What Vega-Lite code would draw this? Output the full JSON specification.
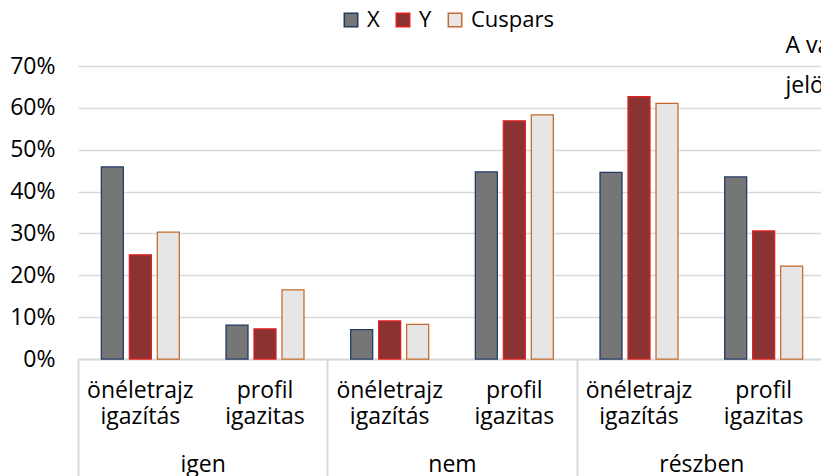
{
  "$schema": "https://vega.github.io/schema/vega-lite/v6.json",
  "width": 743,
  "height": 293,
  "autosize": {"type": "none"},
  "padding": {"left": 78, "top": 66, "right": 0, "bottom": 117},
  "config": {
    "font": "Open Sans",
    "view": {"stroke": null},
    "axis": {"labelColor": "#000000", "labelFontSize": 23, "labelFont": "Open Sans"}
  },
  "data": {
    "values": [
      {"csoport": "igen", "kategoria": "igen|önéletrajz igazítás", "sorozat": "X", "ertek": 0.459},
      {"csoport": "igen", "kategoria": "igen|önéletrajz igazítás", "sorozat": "Y", "ertek": 0.249},
      {"csoport": "igen", "kategoria": "igen|önéletrajz igazítás", "sorozat": "Cuspars", "ertek": 0.303},
      {"csoport": "igen", "kategoria": "igen|profil igazitas", "sorozat": "X", "ertek": 0.081},
      {"csoport": "igen", "kategoria": "igen|profil igazitas", "sorozat": "Y", "ertek": 0.072},
      {"csoport": "igen", "kategoria": "igen|profil igazitas", "sorozat": "Cuspars", "ertek": 0.165},
      {"csoport": "nem", "kategoria": "nem|önéletrajz igazítás", "sorozat": "X", "ertek": 0.070},
      {"csoport": "nem", "kategoria": "nem|önéletrajz igazítás", "sorozat": "Y", "ertek": 0.091},
      {"csoport": "nem", "kategoria": "nem|önéletrajz igazítás", "sorozat": "Cuspars", "ertek": 0.083},
      {"csoport": "nem", "kategoria": "nem|profil igazitas", "sorozat": "X", "ertek": 0.447},
      {"csoport": "nem", "kategoria": "nem|profil igazitas", "sorozat": "Y", "ertek": 0.569},
      {"csoport": "nem", "kategoria": "nem|profil igazitas", "sorozat": "Cuspars", "ertek": 0.583},
      {"csoport": "részben", "kategoria": "részben|önéletrajz igazítás", "sorozat": "X", "ertek": 0.446},
      {"csoport": "részben", "kategoria": "részben|önéletrajz igazítás", "sorozat": "Y", "ertek": 0.627},
      {"csoport": "részben", "kategoria": "részben|önéletrajz igazítás", "sorozat": "Cuspars", "ertek": 0.611},
      {"csoport": "részben", "kategoria": "részben|profil igazitas", "sorozat": "X", "ertek": 0.435},
      {"csoport": "részben", "kategoria": "részben|profil igazitas", "sorozat": "Y", "ertek": 0.306},
      {"csoport": "részben", "kategoria": "részben|profil igazitas", "sorozat": "Cuspars", "ertek": 0.222}
    ]
  },
  "layer": [
    {
      "layer": [
        {
          "mark": {"type": "bar", "strokeWidth": 1.25},
          "encoding": {
            "x": {
              "field": "kategoria",
              "type": "nominal",
              "scale": {
                "domain": ["igen|önéletrajz igazítás", "igen|profil igazitas", "nem|önéletrajz igazítás", "nem|profil igazitas", "részben|önéletrajz igazítás", "részben|profil igazitas"],
                "range": [0, 748],
                "paddingInner": 0,
                "paddingOuter": 0
              },
              "axis": {
                "title": null,
                "orient": "bottom",
                "domain": true,
                "domainColor": "#d9d9d9",
                "domainWidth": 2,
                "ticks": false,
                "grid": false,
                "labelAngle": 0,
                "labelExpr": "split(split(datum.value, '|')[1], ' ')",
                "labelPadding": 20,
                "labelLineHeight": 26,
                "labelFontSize": 23
              }
            },
            "xOffset": {
              "field": "sorozat",
              "type": "nominal",
              "scale": {"domain": ["X", "Y", "Cuspars"], "paddingInner": 0.214, "paddingOuter": 0.834}
            },
            "y": {
              "field": "ertek",
              "type": "quantitative",
              "scale": {"domain": [0, 0.7], "nice": false},
              "axis": {
                "title": null,
                "values": [0, 0.1, 0.2, 0.3, 0.4, 0.5, 0.6, 0.7],
                "format": ".0%",
                "domain": false,
                "ticks": false,
                "labelPadding": 23,
                "labelFontSize": 23,
                "gridColor": "#d9d9d9",
                "gridWidth": 1.3
              }
            },
            "fill": {
              "field": "sorozat",
              "type": "nominal",
              "scale": {"domain": ["X", "Y", "Cuspars"], "range": ["#767676", "#8b3333", "#e7e6e6"]},
              "legend": {
                "title": null,
                "orient": "none",
                "legendX": 262,
                "legendY": -57,
                "direction": "horizontal",
                "symbolType": "square",
                "symbolSize": 180,
                "symbolStrokeWidth": 1.5,
                "labelFontSize": 22,
                "labelColor": "#000000",
                "labelOffset": 5,
                "columnPadding": 12
              }
            },
            "stroke": {
              "field": "sorozat",
              "type": "nominal",
              "scale": {"domain": ["X", "Y", "Cuspars"], "range": ["#1f3864", "#e0201f", "#c5692a"]},
              "legend": {
                "title": null,
                "orient": "none",
                "legendX": 262,
                "legendY": -57,
                "direction": "horizontal",
                "symbolType": "square",
                "symbolSize": 180,
                "symbolStrokeWidth": 1.5,
                "labelFontSize": 22,
                "labelColor": "#000000",
                "labelOffset": 5,
                "columnPadding": 12
              }
            }
          }
        },
        {
          "data": {"values": [{"szoveg": "A válaszadók"}]},
          "mark": {"type": "text", "align": "left", "baseline": "middle", "fontSize": 23, "color": "#000000", "font": "Open Sans"},
          "encoding": {
            "x": {"datum": "részben|profil igazitas", "type": "nominal", "bandPosition": 0.675},
            "y": {"datum": 0.748, "type": "quantitative"},
            "text": {"field": "szoveg"}
          }
        },
        {
          "data": {"values": [{"szoveg": "jelölése"}]},
          "mark": {"type": "text", "align": "left", "baseline": "middle", "fontSize": 23, "color": "#000000", "font": "Open Sans"},
          "encoding": {
            "x": {"datum": "részben|profil igazitas", "type": "nominal", "bandPosition": 0.675},
            "y": {"datum": 0.652, "type": "quantitative"},
            "text": {"field": "szoveg"}
          }
        }
      ]
    },
    {
      "mark": {"type": "point", "opacity": 0},
      "encoding": {
        "x": {
          "field": "csoport",
          "type": "nominal",
          "scale": {"domain": ["igen", "nem", "részben"], "range": [0, 748], "paddingInner": 0, "paddingOuter": 0},
          "axis": {
            "title": null,
            "orient": "bottom",
            "domain": false,
            "grid": false,
            "ticks": true,
            "tickBand": "extent",
            "tickSize": 130,
            "tickColor": "#d9d9d9",
            "tickWidth": 2,
            "labelAngle": 0,
            "labelPadding": -36,
            "labelFontSize": 23
          }
        },
        "y": {"field": "ertek", "type": "quantitative"}
      }
    }
  ],
  "resolve": {"scale": {"x": "independent"}, "axis": {"x": "independent"}}
}
